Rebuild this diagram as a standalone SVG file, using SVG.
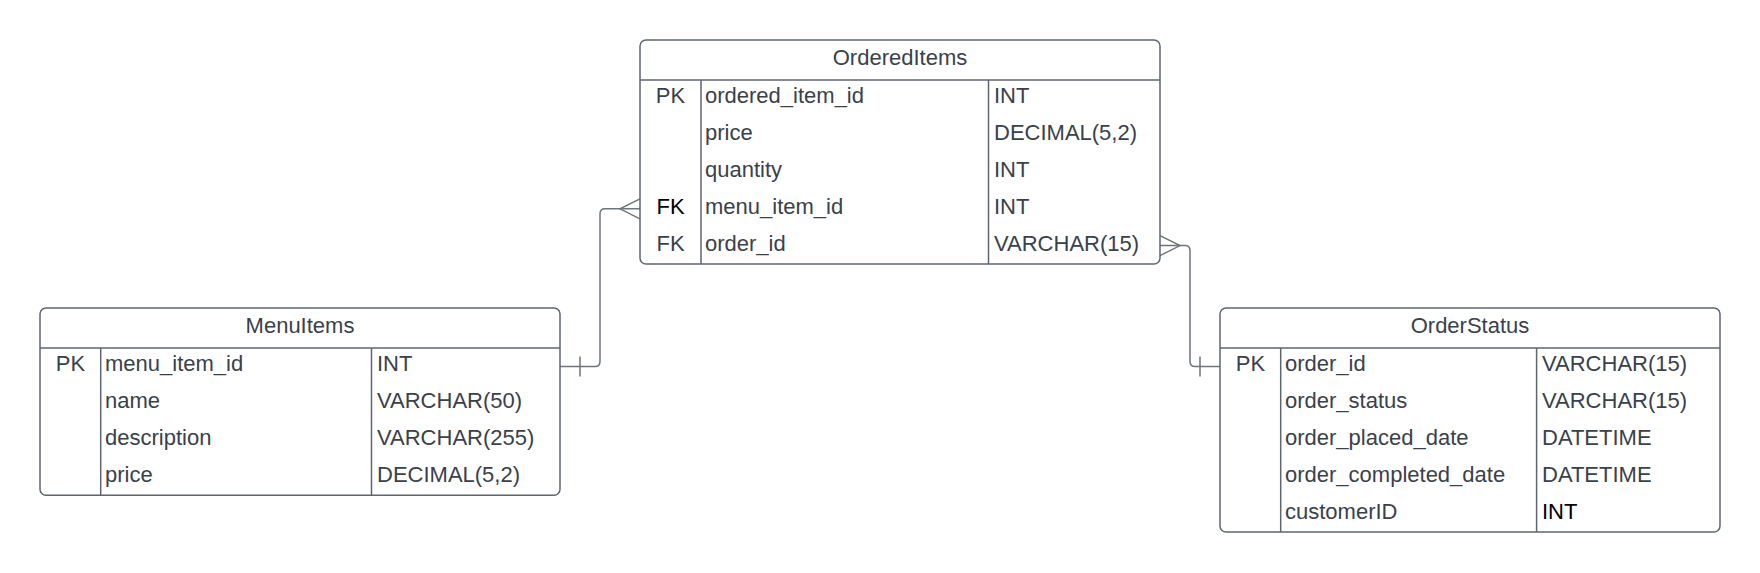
<svg xmlns="http://www.w3.org/2000/svg" width="1760" height="573" viewBox="0 0 1760 573">
<style>
.box{fill:#ffffff;stroke:#5f6670;stroke-width:1.5}
.ln{stroke:#5f6670;stroke-width:1.5;fill:none}
.cn{stroke:#6f757d;stroke-width:1.5;fill:none}
text{font-family:"Liberation Sans",Arial,sans-serif;font-size:22px;fill:#3a414a}
.t{text-anchor:middle}
.k{text-anchor:middle}
.blk{fill:#000000}
</style>
<rect width="1760" height="573" fill="#ffffff"/>
<g id="connectors">
<path class="cn" d="M560,366.4 H595 Q600,366.4 600,361.4 V213.8 Q600,208.8 605,208.8 H640"/>
<path class="cn" d="M640,198.8 L620,208.8 L640,218.8"/>
<path class="cn" d="M580,356.4 V376.4"/>
<path class="cn" d="M1160,245.6 H1185 Q1190,245.6 1190,250.6 V361.4 Q1190,366.4 1195,366.4 H1220"/>
<path class="cn" d="M1160,235.6 L1180,245.6 L1160,255.6"/>
<path class="cn" d="M1200,356.4 V376.4"/>
</g>
<g id="OrderedItems">
<rect class="box" x="640" y="40" width="520" height="224" rx="6"/>
<path class="ln" d="M640,80 H1160 M701,80 V264 M988.5,80 V264"/>
<text class="t" x="900" y="65">OrderedItems</text>
<text class="k" x="670.5" y="103.4">PK</text>
<text x="705" y="103.4">ordered_item_id</text>
<text x="994" y="103.4">INT</text>
<text x="705" y="140.2">price</text>
<text x="994" y="140.2">DECIMAL(5,2)</text>
<text x="705" y="177">quantity</text>
<text x="994" y="177">INT</text>
<text class="k blk" x="670.5" y="213.8">FK</text>
<text x="705" y="213.8">menu_item_id</text>
<text x="994" y="213.8">INT</text>
<text class="k" x="670.5" y="250.6">FK</text>
<text x="705" y="250.6">order_id</text>
<text x="994" y="250.6">VARCHAR(15)</text>
</g>
<g id="MenuItems">
<rect class="box" x="40" y="308" width="520" height="187.2" rx="6"/>
<path class="ln" d="M40,348 H560 M100.7,348 V495.2 M371.5,348 V495.2"/>
<text class="t" x="300" y="333">MenuItems</text>
<text class="k" x="70.4" y="371.4">PK</text>
<text x="105" y="371.4">menu_item_id</text>
<text x="377" y="371.4">INT</text>
<text x="105" y="408.2">name</text>
<text x="377" y="408.2">VARCHAR(50)</text>
<text x="105" y="445">description</text>
<text x="377" y="445">VARCHAR(255)</text>
<text x="105" y="481.8">price</text>
<text x="377" y="481.8">DECIMAL(5,2)</text>
</g>
<g id="OrderStatus">
<rect class="box" x="1220" y="308" width="500" height="224" rx="6"/>
<path class="ln" d="M1220,348 H1720 M1280.7,348 V532 M1536.6,348 V532"/>
<text class="t" x="1470" y="333">OrderStatus</text>
<text class="k" x="1250.4" y="371.4">PK</text>
<text x="1285" y="371.4">order_id</text>
<text x="1542" y="371.4">VARCHAR(15)</text>
<text x="1285" y="408.2">order_status</text>
<text x="1542" y="408.2">VARCHAR(15)</text>
<text x="1285" y="445">order_placed_date</text>
<text x="1542" y="445">DATETIME</text>
<text x="1285" y="481.8">order_completed_date</text>
<text x="1542" y="481.8">DATETIME</text>
<text x="1285" y="518.6">customerID</text>
<text class="blk" x="1542" y="518.6">INT</text>
</g>
</svg>
